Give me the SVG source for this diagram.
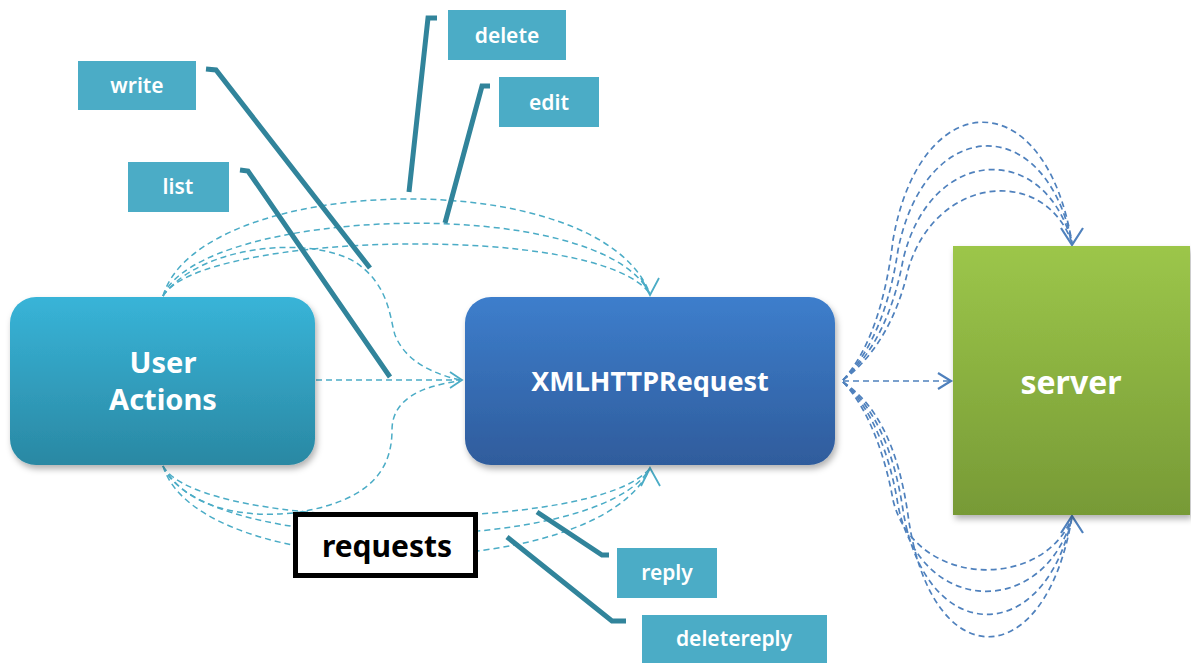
<svg xmlns="http://www.w3.org/2000/svg" width="1191" height="664" viewBox="0 0 1191 664">
<defs>
<linearGradient id="gUser" x1="0" y1="0" x2="0" y2="1"><stop offset="0" stop-color="#38B4D8"/><stop offset="1" stop-color="#2A88A3"/></linearGradient>
<linearGradient id="gXml" x1="0" y1="0" x2="0" y2="1"><stop offset="0" stop-color="#3D7ECC"/><stop offset="1" stop-color="#2F5C9C"/></linearGradient>
<linearGradient id="gSrv" x1="0" y1="0" x2="0" y2="1"><stop offset="0" stop-color="#9CC64A"/><stop offset="1" stop-color="#779A36"/></linearGradient>
<filter id="sh" x="-10%" y="-10%" width="125%" height="130%"><feDropShadow dx="2" dy="4" stdDeviation="3" flood-color="#000" flood-opacity="0.3"/></filter>
<style>
.lbl{fill:#4BACC6}
.lt{font-family:"Noto Sans","Open Sans",sans-serif;font-size:21px;font-weight:600;fill:#fff;text-anchor:middle}
.bt{font-family:"Noto Sans","Open Sans",sans-serif;font-weight:700;fill:#fff;text-anchor:middle}
.lead{fill:none;stroke:#31849B;stroke-width:5;stroke-linejoin:miter}
.dl{fill:none;stroke:#4BACC6;stroke-width:1.5;stroke-dasharray:6 4}
.dr{fill:none;stroke:#4F81BD;stroke-width:1.7;stroke-dasharray:6 4}
.ahl{fill:none;stroke:#4BACC6;stroke-width:1.8}
.ahr{fill:none;stroke:#4F81BD;stroke-width:2.2}
</style>
</defs>
<rect width="1191" height="664" fill="#fff"/>

<g id="connectors">
<path class="dl" d="M163,296 C200,172 600,162 650,294"/>
<path class="dl" d="M163,296 C200,207 600,192 650,294"/>
<path class="dl" d="M163,296 C200,232 600,222 650,294"/>
<path class="dl" d="M163,296 C200,245 310,235 355,262 C390,285 390,320 395,335 C405,360 430,373 460,380"/>
<path class="dl" d="M316,380 L460,380"/>
<path class="dl" d="M163,466 C200,533 600,533 650,468"/>
<path class="dl" d="M163,466 C200,557 600,557 650,468"/>
<path class="dl" d="M163,466 C200,585 600,585 650,468"/>
<path class="dl" d="M163,466 C190,515 260,518 300,512 C370,500 392,470 392,430 C392,400 420,386 460,381"/>
<path class="ahl" d="M450,372 L462,380 L450,388"/>
<path class="ahl" d="M641,278 L650,295 L659,278"/>
<path class="ahl" d="M641,486 L650,468 L660,486"/>

<path class="dr" d="M843,380 C870,350 886,300 893,240 C920,85 1045,80 1072,243"/>
<path class="dr" d="M843,380 C872,352 890,305 898,250 C925,115 1045,110 1072,243"/>
<path class="dr" d="M843,380 C874,354 894,310 903,260 C930,145 1045,140 1072,243"/>
<path class="dr" d="M843,380 C876,356 898,315 908,270 C935,175 1045,165 1072,243"/>
<path class="dr" d="M843,382 C870,410 886,460 893,500 C915,590 1045,590 1072,517"/>
<path class="dr" d="M843,382 C872,408 890,455 898,505 C920,618 1045,618 1072,517"/>
<path class="dr" d="M843,382 C874,406 894,450 903,510 C925,648 1045,648 1072,517"/>
<path class="dr" d="M843,382 C876,404 898,445 908,515 C930,677 1045,677 1072,517"/>
<path class="dr" d="M843,381 L950,381"/>
<path class="ahr" d="M938,373 L951,381 L938,389"/>
<path class="ahr" d="M1061,228 L1072,245 L1083,228"/>
<path class="ahr" d="M1061,533 L1072,516 L1083,533"/>

<path class="lead" d="M206,69 L216,70 L370,268"/>
<path class="lead" d="M240,170 L248,171 L390,377"/>
<path class="lead" d="M437,18 L428,18 L409,192"/>
<path class="lead" d="M490,86 L482,86 L445,223"/>
<path class="lead" d="M537,512 L602,555 L609,555"/>
<path class="lead" d="M507,537 L612,621 L626,621"/>
</g>

<g id="user-actions">
<rect x="10" y="297" width="305" height="168" rx="26" fill="url(#gUser)" filter="url(#sh)"/>
<text class="bt" x="163" y="373" font-size="29">User</text>
<text class="bt" x="163" y="410" font-size="29">Actions</text>
</g>

<g id="xmlhttprequest">
<rect x="465" y="297" width="370" height="168" rx="26" fill="url(#gXml)" filter="url(#sh)"/>
<text class="bt" x="650" y="391" font-size="27">XMLHTTPRequest</text>
</g>

<g id="server">
<rect x="953" y="246" width="237" height="269" fill="url(#gSrv)" filter="url(#sh)"/>
<text class="bt" x="1071" y="394" font-size="32">server</text>
</g>

<g id="requests">
<rect x="295.5" y="514.5" width="180" height="61" fill="#fff" stroke="#000" stroke-width="5"/>
<text x="387" y="557" font-family="Noto Sans, Open Sans, sans-serif" font-weight="700" font-size="30" text-anchor="middle" fill="#000">requests</text>
</g>

<g id="label-write"><rect class="lbl" x="78" y="61" width="118" height="49"/><text class="lt" x="137" y="93">write</text></g>
<g id="label-list"><rect class="lbl" x="128" y="162" width="101" height="50"/><text class="lt" x="178" y="194">list</text></g>
<g id="label-delete"><rect class="lbl" x="448" y="10" width="118" height="50"/><text class="lt" x="507" y="43">delete</text></g>
<g id="label-edit"><rect class="lbl" x="499" y="77" width="100" height="50"/><text class="lt" x="549" y="110">edit</text></g>
<g id="label-reply"><rect class="lbl" x="617" y="548" width="100" height="50"/><text class="lt" x="667" y="580">reply</text></g>
<g id="label-deletereply"><rect class="lbl" x="642" y="615" width="185" height="48"/><text class="lt" x="734" y="646">deletereply</text></g>
</svg>
